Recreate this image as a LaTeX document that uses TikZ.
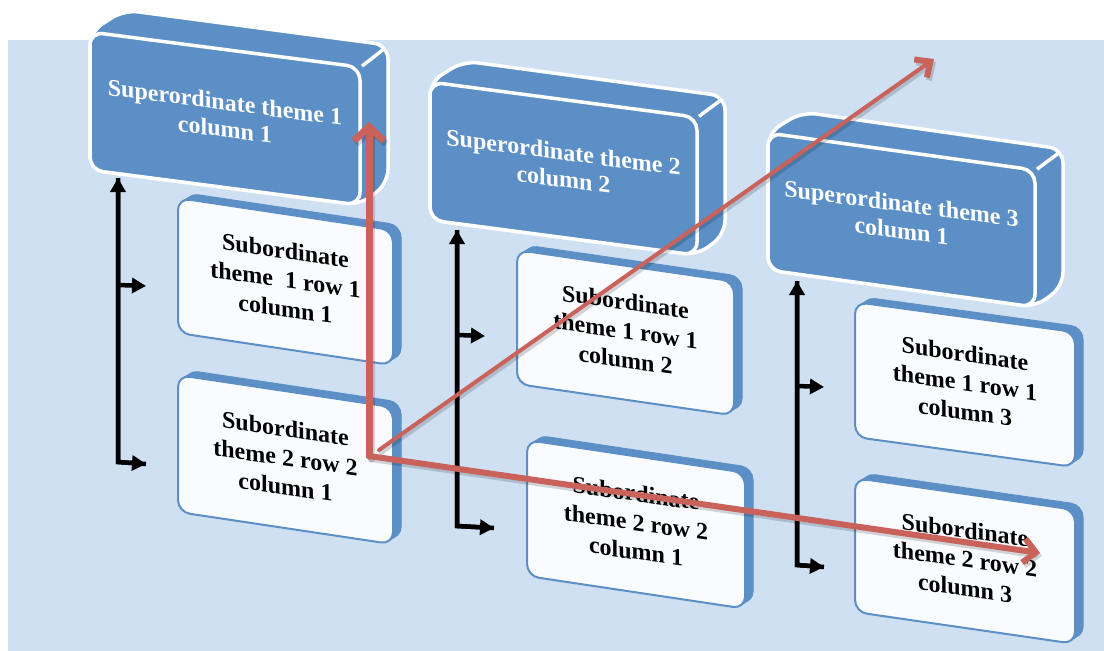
\documentclass[tikz,border=0pt]{standalone}
\usepackage{fontspec}
\setmainfont{Liberation Serif}
\usetikzlibrary{calc,arrows.meta}
\definecolor{bgblue}{HTML}{CFE0F2}
\definecolor{supblue}{HTML}{5B8FC5}
\definecolor{subwhite}{HTML}{F9FBFE}
\definecolor{redarrow}{HTML}{C9625A}
\tikzset{
  suptext/.style={text=white,font=\fontsize{24}{27}\selectfont\bfseries,align=center,yslant=-0.13,inner sep=0pt},
  subtext/.style={text=black,font=\fontsize{24}{29}\selectfont\bfseries,align=center,yslant=-0.14,inner sep=0pt},
  blackarrow/.style={line width=4.5pt,-{Triangle[length=14pt,width=15pt]}},
  redline/.style={redarrow,line cap=round,line join=round},
  shadowline/.style={black,opacity=0.16,line cap=round,line join=round},
}
\newcommand\facecoords[6]{% name, x, y, w, h, s
  \pgfmathsetmacro\facerx{#2+#4}
  \pgfmathsetmacro\facery{#3+#6*#4}
  \coordinate (#1-tl) at (#2,#3);
  \coordinate (#1-tr) at (\facerx,\facery);
  \coordinate (#1-br) at (\facerx,\facery+#5);
  \coordinate (#1-bl) at (#2,#3+#5);
  \coordinate (#1-c) at ($(#1-tl)!0.5!(#1-br)$);
}
\newcommand\supbox[3]{% name, dx, dy
  \filldraw[fill=supblue,draw=white,line width=3.5pt,rounded corners=14pt]
    (#1-tl) -- ($(#1-tl)+(#2,#3)+(6,0)$) -- ($(#1-tr)+(#2,#3)$) -- ($(#1-br)+(#2,#3)$) -- (#1-br) -- (#1-bl) -- cycle;
  \filldraw[fill=supblue,draw=white,line width=3.5pt,rounded corners=13pt]
    (#1-tl) -- (#1-tr) -- (#1-br) -- (#1-bl) -- cycle;
  \draw[white,line width=3.5pt] ($(#1-tr)+(2,-1)$) -- ($(#1-tr)+(#2,#3)+(-3,3)$);
}
\newcommand\subbox[3]{% name, dx, dy
  \foreach \f in {1,0.8,0.6,0.4,0.2}{
    \filldraw[fill=supblue,draw=supblue,line width=1pt,rounded corners=12pt]
      ($(#1-tl)+\f*(#2,#3)$) -- ($(#1-tr)+\f*(#2,#3)$) -- ($(#1-br)+\f*(#2,#3)$) -- ($(#1-bl)+\f*(#2,#3)$) -- cycle;
  }
  \filldraw[fill=subwhite,draw=supblue,line width=2pt,rounded corners=12pt]
    (#1-tl) -- (#1-tr) -- (#1-br) -- (#1-bl) -- cycle;
}
\begin{document}
\begin{tikzpicture}[x=1pt,y=-1pt]
\useasboundingbox (0,0) rectangle (1104,651);
\fill[white] (0,0) rectangle (1104,651);
\fill[bgblue] (8,40) rectangle (1104,651);

% subordinate boxes
\facecoords{s11}{178}{198}{215}{135}{0.15}
\facecoords{s12}{178}{375}{215}{137}{0.15}
\facecoords{s21}{517}{250}{217}{134}{0.145}
\facecoords{s22}{527}{440}{218}{136}{0.15}
\facecoords{s31}{855}{302}{220}{135}{0.137}
\facecoords{s32}{855}{478}{220}{134}{0.145}
\subbox{s11}{8}{-5}
\subbox{s12}{8}{-5}
\subbox{s21}{8}{-5}
\subbox{s22}{8}{-5}
\subbox{s31}{8}{-5}
\subbox{s32}{8}{-5}
\node[subtext] (t11) at ($(s11-c)+(0,-2)$) {Subordinate\\theme\ \ 1 row 1\\column 1};
\node[subtext] (t12) at ($(s12-c)+(0,-2)$) {Subordinate\\theme 2 row 2\\column 1};
\node[subtext] (t21) at ($(s21-c)+(0,-2)$) {Subordinate\\theme 1 row 1\\column 2};
\node[subtext] (t22) at ($(s22-c)+(0,-2)$) {Subordinate\\theme 2 row 2\\column 1};
\node[subtext] (t31) at ($(s31-c)+(0,-2)$) {Subordinate\\theme 1 row 1\\column 3};
\node[subtext] (t32) at ($(s32-c)+(0,-2)$) {Subordinate\\theme 2 row 2\\column 3};

% superordinate boxes
\facecoords{p1}{90}{32}{270}{138}{0.13}
\facecoords{p2}{430}{82}{267}{138}{0.132}
\facecoords{p3}{768}{133}{267}{137}{0.139}
\supbox{p1}{28}{-22}
\supbox{p2}{28}{-21}
\supbox{p3}{28}{-21}
\node[suptext] (q1) at ($(p1-c)+(0,-3)$) {Superordinate theme 1\\column 1};
\node[suptext] (q2) at ($(p2-c)+(0,-3)$) {Superordinate theme 2\\column 2};
\node[suptext] (q3) at ($(p3-c)+(0,-3)$) {Superordinate theme 3\\column 1};

% black connectors
\coordinate (c1top) at (118,178);
\coordinate (c1mid) at (118,285);
\coordinate (c1bot) at (118,462);
\coordinate (c1midend) at (146,286);
\coordinate (c1botend) at (146,464);
\coordinate (c2top) at (457,230);
\coordinate (c2mid) at (457,335);
\coordinate (c2bot) at (457,526);
\coordinate (c2midend) at (485,336);
\coordinate (c2botend) at (494,528);
\coordinate (c3top) at (797,281);
\coordinate (c3mid) at (797,386);
\coordinate (c3bot) at (797,565);
\coordinate (c3midend) at (824,387);
\coordinate (c3botend) at (824,567);
\foreach \c in {c1,c2,c3}{
  \draw[blackarrow,line join=miter] (\c botend) -- (\c bot) -- (\c top);
  \draw[blackarrow,line join=miter] (\c top) -- (\c bot) -- (\c botend);
  \draw[blackarrow] (\c mid) -- (\c midend);
}

% red arrows
\coordinate (o) at (369,456);
\coordinate (r1) at (369,122);
\coordinate (r2) at (934,59);
\coordinate (r3) at (1040,553);
\draw[shadowline,line width=7pt,-{Straight Barb[length=14pt,width=30pt,line width=7pt]}] ($(o)+(2,3)$) -- ($(r1)+(2,3)$);
\draw[shadowline,line width=4pt,-{Straight Barb[length=12pt,width=22pt,line width=6pt]}] ($(o)+(12,-3)$) -- ($(r2)+(2,3)$);
\draw[shadowline,line width=6pt,-{Straight Barb[length=12pt,width=24pt,line width=6pt]}] ($(o)+(2,3)$) -- ($(r3)+(2,3)$);
\draw[redline,line width=7pt,-{Straight Barb[length=14pt,width=30pt,line width=7pt]}] (o) -- (r1);
\draw[redline,line width=4pt,-{Straight Barb[length=12pt,width=22pt,line width=6pt]}] ($(o)+(10,-6)$) -- (r2);
\draw[redline,line width=6pt,-{Straight Barb[length=12pt,width=24pt,line width=6pt]}] (o) -- (r3);
\end{tikzpicture}
\end{document}
